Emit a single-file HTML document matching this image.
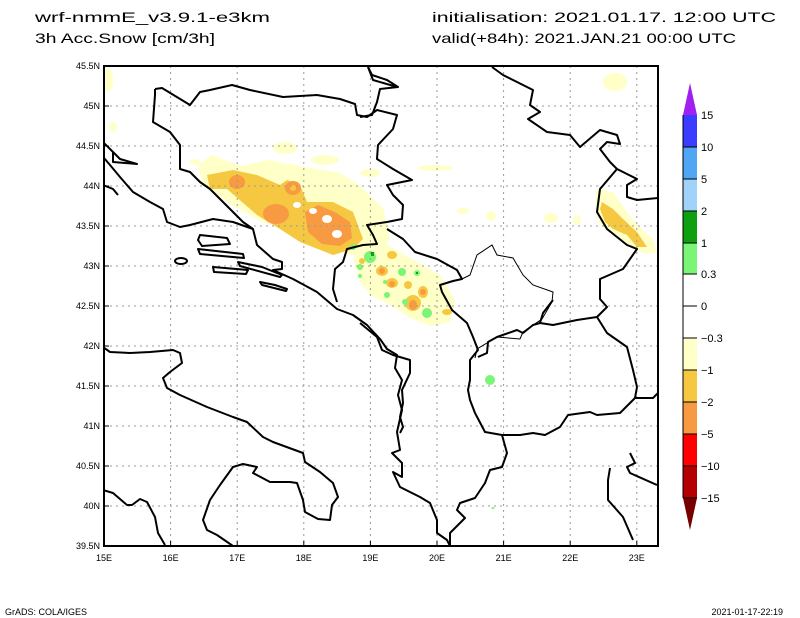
<!DOCTYPE html>
<html><head><meta charset="utf-8"><style>
html,body{margin:0;padding:0;background:#fff;}
svg{display:block;font-family:"Liberation Sans",sans-serif;}
</style></head><body>
<svg width="800" height="618" viewBox="0 0 800 618" xmlns="http://www.w3.org/2000/svg">
<rect width="800" height="618" fill="#fff"/>
<g font-size="14" fill="#000">
<text x="35" y="22" textLength="235" lengthAdjust="spacingAndGlyphs">wrf-nmmE_v3.9.1-e3km</text>
<text x="35" y="43" textLength="180" lengthAdjust="spacingAndGlyphs">3h Acc.Snow [cm/3h]</text>
<text x="432" y="22" textLength="344" lengthAdjust="spacingAndGlyphs">initialisation: 2021.01.17.  12:00 UTC</text>
<text x="432" y="43" textLength="304" lengthAdjust="spacingAndGlyphs">valid(+84h): 2021.JAN.21 00:00 UTC</text>
</g>
<clipPath id="c"><rect x="104" y="66" width="554" height="480"/></clipPath>
<g clip-path="url(#c)">
<g fill="#ffffc8">
<path d="M198,165 L212,155 L240,166 L268,160 L300,166 L340,173 L360,186 L383,208 L390,238 L382,255 L362,258 L335,250 L300,234 L262,222 L228,203 L202,182 Z"/>
<path d="M355,245 L378,240 L410,258 L440,275 L455,300 L450,322 L430,326 L410,318 L392,306 L372,296 L360,282 L354,262 Z"/>
<path d="M597,189 L613,192 L627,212 L637,225 L653,239 L657,252 L647,254 L633,249 L613,232 L600,225 L595,205 Z"/>
<ellipse cx="615" cy="82" rx="12" ry="9"/>
<ellipse cx="435" cy="168" rx="18" ry="3"/>
<ellipse cx="463" cy="211" rx="6" ry="3"/>
<ellipse cx="370" cy="173" rx="10" ry="4"/>
<ellipse cx="285" cy="148" rx="12" ry="6"/>
<ellipse cx="325" cy="160" rx="14" ry="5"/>
<ellipse cx="108" cy="80" rx="5" ry="12"/>
<ellipse cx="113" cy="127" rx="4" ry="5"/>
<ellipse cx="491" cy="216" rx="5" ry="5"/>
<ellipse cx="551" cy="218" rx="7" ry="5"/>
<ellipse cx="577" cy="220" rx="4" ry="5"/>
<ellipse cx="195" cy="162" rx="5" ry="3"/>
</g>
<g fill="#f6c842">
<path d="M207,175 L233,170 L257,175 L280,185 L287,180 L300,185 L307,202 L333,202 L353,212 L363,239 L353,249 L333,255 L300,242 L280,229 L257,215 L227,189 L210,189 Z"/>
<path d="M602,202 L613,209 L623,219 L637,232 L647,247 L637,247 L627,235 L613,229 L605,222 L600,209 Z"/>
<ellipse cx="392" cy="283" rx="6" ry="5"/><ellipse cx="413" cy="303" rx="8" ry="8"/>
<ellipse cx="423" cy="292" rx="5" ry="6"/><ellipse cx="447" cy="312" rx="5" ry="3"/>
<ellipse cx="382" cy="271" rx="6" ry="5"/><ellipse cx="408" cy="285" rx="4" ry="4"/>
<ellipse cx="392" cy="255" rx="5" ry="4"/><ellipse cx="362" cy="261" rx="3" ry="3"/>
</g>
<g fill="#f89a42">
<ellipse cx="237" cy="182" rx="8" ry="7"/>
<ellipse cx="276" cy="214" rx="13" ry="10"/>
<ellipse cx="293" cy="188" rx="8" ry="7"/>
<path d="M305,212 L318,205 L335,212 L350,222 L352,238 L340,246 L322,244 L308,232 Z"/>
<ellipse cx="382" cy="271" rx="3" ry="3"/><ellipse cx="413" cy="305" rx="4" ry="5"/>
<ellipse cx="423" cy="292" rx="3" ry="3"/><ellipse cx="392" cy="284" rx="3" ry="3"/>
</g>
<g fill="#fff">
<ellipse cx="313" cy="211" rx="4" ry="3"/><ellipse cx="327" cy="219" rx="5" ry="4"/>
<ellipse cx="337" cy="234" rx="5" ry="4"/><ellipse cx="297" cy="205" rx="4" ry="3"/>
<ellipse cx="293" cy="188" rx="3" ry="3" fill="#f6c842"/>
</g>
<g fill="#7af576">
<ellipse cx="370" cy="257" rx="6" ry="6"/><ellipse cx="353" cy="247" rx="3" ry="3"/>
<ellipse cx="360" cy="267" rx="3" ry="3"/><ellipse cx="360" cy="276" rx="2" ry="2"/>
<ellipse cx="385" cy="282" rx="2" ry="2"/><ellipse cx="402" cy="272" rx="4" ry="4"/>
<ellipse cx="417" cy="273" rx="3" ry="3"/><ellipse cx="387" cy="295" rx="3" ry="3"/>
<ellipse cx="405" cy="302" rx="3" ry="3"/><ellipse cx="427" cy="313" rx="5" ry="5"/>
<ellipse cx="490" cy="380" rx="5" ry="5"/><ellipse cx="493" cy="508" rx="1.5" ry="1"/>
</g>
<g fill="#10a010"><rect x="371" y="252" width="3" height="4"/><rect x="416" y="272" width="2" height="2"/></g>
<g stroke="#999" stroke-width="1" stroke-dasharray="2,4">
<path d="M170.6,66V546M237.2,66V546M303.8,66V546M370.4,66V546M437,66V546M503.6,66V546M570.2,66V546M636.8,66V546"/>
<path d="M104,106H658M104,146H658M104,186H658M104,226H658M104,266H658M104,306H658M104,346H658M104,386H658M104,426H658M104,466H658M104,506H658"/>
</g>
<g fill="none" stroke="#000" stroke-width="2" stroke-linejoin="round">
<polyline points="103,142 113,152 113,162 137,164 120,159 110,149"/>
<polyline points="103,185 113,189 118,195"/>
<polyline points="104,158 110,165 120,177 133,192 150,202 163,209 167,222 180,227 190,225 213,219 233,222 253,229 257,245 273,259 282,262 282,269 273,270 293,279 317,292 337,309 353,315 367,325 380,339 387,349 397,355 395,368 402,380 398,395 402,410 397,432 400,450 392,453 402,463 402,477 393,472 400,487 420,497 430,503 437,520 437,533 447,540 452,550"/>
<polyline points="155,89 162,88 190,105 200,92 210,90 232,85 250,90 283,97 317,95 340,99 355,104 357,115 367,117 377,110 397,115 393,129 378,145 377,159 393,169 412,180 387,185 393,195 403,205 402,219 387,222 367,225 373,235 377,244 363,245 347,249 343,262 335,269 333,289 337,302"/>
<polyline points="155,89 155,95 153,122 170,132 180,145 180,169 190,172 200,182 210,189 223,202 233,212 243,222 253,229"/>
<polyline points="387,229 403,239 415,252 437,259 457,270 462,279 453,281 440,285 442,292 452,310 467,323 473,337 478,350 470,360 470,380 468,390 470,400 475,413 485,432 502,435 507,453 502,467 490,470 485,483 475,498 460,503 457,510 465,518 460,523 450,533 450,546"/>
<polyline points="360,323 377,337 382,350 393,355 410,360 410,373 402,390 403,403 400,417 403,427 400,433"/>
<polyline points="502,435 520,435 533,433 545,435 560,427 568,415 590,412 597,415 620,413 635,398 653,398 658,393"/>
<polyline points="635,398 637,387 633,370 627,347 607,333 597,317 577,320 553,325 540,323 533,325 523,333 517,330 497,337 488,342 487,353 478,357"/>
<polyline points="540,323 543,313 553,300"/>
<polyline points="597,317 607,307 600,299 600,279 623,269 637,249 627,245 607,229 597,212 600,189 617,169"/>
<polyline points="368,67 373,80 397,87"/>
<polyline points="368,67 372,75 387,80 398,87 380,89 377,102 372,115 360,117"/>
<polyline points="492,67 503,75 533,90 530,105 540,112 528,119 547,132 570,135 580,147 600,130 617,135 620,144 607,142 600,149 610,162 617,169 637,179 627,185 627,197 637,200 658,198"/>
<polyline points="610,468 608,480 608,500 623,517 633,540"/>
<polyline points="630,453 635,463 627,467 630,473 657,485"/>
<polyline points="103,347 110,352 130,353 150,352 173,350 180,353 182,363 170,372 163,378 167,388 180,395 207,407 233,417 247,422 263,437 273,442 303,453 305,462 320,472 333,483 338,497 332,505 330,520 318,519 305,512 303,500 297,483 290,482 270,482 253,473 257,467 243,464 233,467 220,485 210,500 203,520 207,530 217,535 233,546"/>
<polyline points="103,490 113,493 127,505 132,505 140,499 147,502 155,517 158,533 165,545"/>
<path d="M200,235 L227,238 L230,244 L202,246 L198,240 Z"/>
<path d="M198,249 L243,254 L244,258 L200,254 Z"/>
<ellipse cx="181" cy="261" rx="6" ry="3"/>
<path d="M213,267 L248,270 L246,274 L214,272 Z"/>
<path d="M238,262 L262,267 L282,275 L280,277 L240,266 Z"/>
<path d="M260,282 L275,285 L287,289 L286,291 L262,285 Z"/>
</g>
<g fill="none" stroke="#000" stroke-width="1">
<polyline points="462,279 470,275 477,255 492,245 497,255 513,258 523,275 533,285 553,292 552,302 542,319 523,332 520,339 497,337 477,349 475,358"/>
</g>
</g>
<rect x="104" y="66" width="554" height="480" fill="none" stroke="#000" stroke-width="2"/>
<g stroke="#000" stroke-width="1">
<path d="M104,106h5M104,146h5M104,186h5M104,226h5M104,266h5M104,306h5M104,346h5M104,386h5M104,426h5M104,466h5M104,506h5"/>
<path d="M170.6,546v-5M237.2,546v-5M303.8,546v-5M370.4,546v-5M437,546v-5M503.6,546v-5M570.2,546v-5M636.8,546v-5"/>
</g>
<g font-size="9" fill="#000" text-anchor="end">
<text x="100" y="69">45.5N</text><text x="100" y="109">45N</text><text x="100" y="149">44.5N</text>
<text x="100" y="189">44N</text><text x="100" y="229">43.5N</text><text x="100" y="269">43N</text>
<text x="100" y="309">42.5N</text><text x="100" y="349">42N</text><text x="100" y="389">41.5N</text>
<text x="100" y="429">41N</text><text x="100" y="469">40.5N</text><text x="100" y="509">40N</text>
<text x="100" y="549">39.5N</text>
</g>
<g font-size="9" fill="#000" text-anchor="middle">
<text x="104" y="561">15E</text><text x="170.6" y="561">16E</text><text x="237.2" y="561">17E</text>
<text x="303.8" y="561">18E</text><text x="370.4" y="561">19E</text><text x="437" y="561">20E</text>
<text x="503.6" y="561">21E</text><text x="570.2" y="561">22E</text><text x="636.8" y="561">23E</text>
</g>
<path d="M690,83 L697,115 L683,115 Z" fill="#a020f0"/>
<rect x="683" y="115" width="14" height="32" fill="#3c3cff"/>
<rect x="683" y="147" width="14" height="32" fill="#50a5f5"/>
<rect x="683" y="179" width="14" height="32" fill="#a0d2fa"/>
<rect x="683" y="211" width="14" height="32" fill="#0fa00f"/>
<rect x="683" y="243" width="14" height="31" fill="#7af576"/>
<rect x="683" y="274" width="14" height="64" fill="#fff"/>
<rect x="683" y="338" width="14" height="32" fill="#ffffc8"/>
<rect x="683" y="370" width="14" height="32" fill="#f6c842"/>
<rect x="683" y="402" width="14" height="32" fill="#f89a42"/>
<rect x="683" y="434" width="14" height="32" fill="#ff0000"/>
<rect x="683" y="466" width="14" height="32" fill="#b40000"/>
<path d="M683,498 L697,498 L690,530 Z" fill="#780000"/>
<g stroke="#000" stroke-width="1">
<path d="M683,115V498"/>
<path d="M683,147h14M683,179h14M683,211h14M683,243h14M683,274h14M683,306h14M683,338h14M683,370h14M683,402h14M683,434h14M683,466h14M683,498h14"/>
</g>
<g font-size="11" fill="#000">
<text x="701" y="119">15</text><text x="701" y="151">10</text><text x="701" y="183">5</text>
<text x="701" y="215">2</text><text x="701" y="247">1</text><text x="701" y="278">0.3</text>
<text x="701" y="310">0</text><text x="701" y="342">−0.3</text><text x="701" y="374">−1</text>
<text x="701" y="406">−2</text><text x="701" y="438">−5</text><text x="701" y="470">−10</text>
<text x="701" y="502">−15</text>
</g>
<g font-size="9" fill="#000">
<text x="5" y="615">GrADS: COLA/IGES</text>
<text x="783" y="615" text-anchor="end">2021-01-17-22:19</text>
</g>
</svg>
</body></html>
